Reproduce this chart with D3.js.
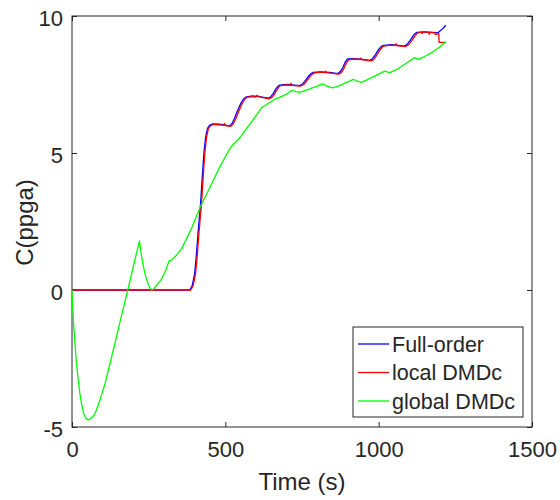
<!DOCTYPE html>
<html>
<head>
<meta charset="utf-8">
<script src="https://cdn.jsdelivr.net/npm/d3@7"></script>
<style>
  body { margin: 0; background: #fff; }
  text { font-family: "Liberation Sans", Arial, sans-serif; fill: #262626; }
</style>
</head>
<body>
<svg id="chart" width="560" height="500"></svg>
<script>
// ---- data ----
var xTicks = [0, 500, 1000, 1500];
var yTicks = [-5, 0, 5, 10];
var seriesNames = ["Full-order", "local DMDc", "global DMDc"];
var seriesColors = ["#0000ff", "#ff0000", "#00ff00"];

var fullTime = [0, 384, 392, 400, 405, 411, 415, 419, 423, 427, 431, 436, 442, 449, 460, 480, 500, 514,
  522, 530, 540, 550, 560, 569, 590, 615, 640, 648, 656, 664, 671, 677, 700, 725, 742, 752, 762, 772,
  780, 786, 810, 840, 867, 875, 883, 891, 899, 920, 950, 971, 980, 990, 1000, 1008, 1013, 1040, 1065,
  1084, 1094, 1104, 1114, 1120, 1124, 1150, 1175, 1193, 1200, 1208, 1214, 1219];
var fullC = [0, 0, 0.15, 0.61, 1.2, 2.07, 2.6, 3.1, 3.8, 4.5, 5.1, 5.6, 5.9, 6.02, 6.06, 6.05, 6.02, 5.99,
  6.08, 6.27, 6.55, 6.8, 6.98, 7.05, 7.08, 7.05, 7.0, 7.05, 7.17, 7.32, 7.43, 7.48, 7.5, 7.48, 7.46,
  7.52, 7.66, 7.81, 7.9, 7.94, 7.96, 7.94, 7.9, 7.97, 8.12, 8.32, 8.43, 8.44, 8.42, 8.38, 8.44, 8.6,
  8.78, 8.88, 8.92, 8.95, 8.93, 8.9, 8.98, 9.13, 9.3, 9.37, 9.4, 9.42, 9.4, 9.39, 9.45, 9.53, 9.6, 9.66];

var localTime = [0, 387, 395, 403, 408, 414, 418, 422, 426, 430, 434, 439, 445, 452, 463, 480, 495, 497,
  500, 517, 525, 533, 543, 553, 563, 572, 590, 600, 602, 615, 643, 651, 659, 667, 674, 680, 700, 712,
  714, 716, 745, 755, 765, 775, 783, 789, 810, 825, 827, 829, 870, 878, 886, 894, 902, 920, 940, 942,
  944, 974, 983, 993, 1003, 1011, 1016, 1040, 1055, 1057, 1059, 1087, 1097, 1107, 1117, 1123, 1127,
  1140, 1142, 1144, 1163, 1165, 1167, 1183, 1185, 1196, 1197, 1219];
var localC = [0, 0, 0.15, 0.61, 1.2, 2.07, 2.6, 3.1, 3.8, 4.5, 5.1, 5.6, 5.9, 6.0, 6.04, 6.03, 6.01, 6.08,
  6.0, 5.97, 6.05, 6.22, 6.5, 6.76, 6.96, 7.04, 7.06, 7.04, 7.1, 7.04, 6.98, 7.02, 7.12, 7.28, 7.4, 7.46,
  7.49, 7.47, 7.55, 7.47, 7.44, 7.49, 7.62, 7.77, 7.87, 7.92, 7.95, 7.93, 7.99, 7.93, 7.88, 7.93, 8.07,
  8.27, 8.4, 8.43, 8.41, 8.47, 8.41, 8.36, 8.4, 8.55, 8.74, 8.85, 8.9, 8.94, 8.92, 8.99, 8.92, 8.88,
  8.94, 9.08, 9.25, 9.34, 9.38, 9.41, 9.36, 9.42, 9.4, 9.33, 9.4, 9.38, 9.32, 9.36, 9.04, 9.04];

var globalTime = [0, 2, 5, 9, 14, 20, 26, 32, 38, 45, 53, 60, 70, 80, 90, 100, 108, 140, 160, 182, 200,
  220, 224, 228, 233, 238, 244, 250, 255, 260, 266, 272, 280, 292, 305, 317, 325, 340, 358, 390, 419,
  450, 480, 516, 547, 580, 617, 622, 660, 700, 718, 730, 742, 760, 780, 800, 818, 830, 850, 870, 890,
  918, 930, 943, 960, 980, 1000, 1020, 1036, 1060, 1080, 1100, 1117, 1128, 1150, 1175, 1200, 1217];
var globalC = [0, -0.5, -1.2, -1.85, -2.6, -3.25, -3.8, -4.2, -4.5, -4.68, -4.74, -4.7, -4.6, -4.38,
  -4.05, -3.7, -3.41, -1.95, -1.0, 0, 0.86, 1.79, 1.45, 1.15, 0.85, 0.6, 0.36, 0.18, 0.07, 0.0, 0.03,
  0.12, 0.22, 0.4, 0.7, 1.07, 1.09, 1.26, 1.52, 2.25, 3.05, 3.75, 4.45, 5.19, 5.55, 6.05, 6.63, 6.68,
  6.95, 7.15, 7.29, 7.24, 7.21, 7.28, 7.36, 7.44, 7.52, 7.45, 7.38, 7.45, 7.55, 7.69, 7.62, 7.58, 7.66,
  7.77, 7.88, 7.99, 7.93, 8.05, 8.2, 8.35, 8.48, 8.42, 8.52, 8.68, 8.88, 9.04];

// ---- layout ----
var margin = { top: 16, right: 28, bottom: 73, left: 72 },
    width = 560 - margin.left - margin.right,
    height = 500 - margin.top - margin.bottom;

var svg = d3.select("#chart")
    .append("g")
    .attr("transform", "translate(" + margin.left + "," + margin.top + ")");

var x = d3.scaleLinear().domain([0, 1500]).range([0, width]);
var y = d3.scaleLinear().domain([-5, 10]).range([height, 0]);

var axisColor = "#262626";
var plain = function (d) { return String(d); };  // "-5" with a hyphen, "1000" without comma

// box
svg.append("rect")
    .attr("width", width).attr("height", height)
    .attr("fill", "none").attr("stroke", axisColor).attr("stroke-width", 1);

function styleAxis(g) {
    g.select(".domain").remove();
    g.selectAll(".tick line").attr("stroke", axisColor);
    g.selectAll(".tick text").attr("font-size", 22).attr("fill", axisColor)
        .attr("font-family", "'Liberation Sans', Arial, sans-serif");
}

svg.append("g")
    .attr("transform", "translate(0," + height + ")")
    .call(d3.axisBottom(x).tickValues(xTicks).tickSizeInner(-5).tickSizeOuter(0).tickPadding(14).tickFormat(plain))
    .call(styleAxis);
svg.append("g")
    .call(d3.axisTop(x).tickValues(xTicks).tickSizeInner(-5).tickSizeOuter(0).tickFormat(""))
    .call(styleAxis);
svg.append("g")
    .call(d3.axisLeft(y).tickValues(yTicks).tickSizeInner(-5).tickSizeOuter(0).tickPadding(9).tickFormat(plain))
    .call(styleAxis)
    .selectAll(".tick text").attr("dy", "0.42em");
svg.append("g")
    .attr("transform", "translate(" + width + ",0)")
    .call(d3.axisRight(y).tickValues(yTicks).tickSizeInner(-5).tickSizeOuter(0).tickFormat(""))
    .call(styleAxis);

// axis titles
svg.append("text")
    .attr("x", width / 2).attr("y", height + 63)
    .attr("text-anchor", "middle").attr("font-size", 24)
    .text("Time (s)");
svg.append("text")
    .attr("transform", "translate(" + (-39) + "," + (height / 2 + 1) + ") rotate(-90)")
    .attr("text-anchor", "middle").attr("font-size", 24)
    .text("C(ppga)");

// lines
var line = d3.line()
    .x(function (d) { return x(d[0]); })
    .y(function (d) { return y(d[1]); });

var series = [
    d3.zip(fullTime, fullC),
    d3.zip(localTime, localC),
    d3.zip(globalTime, globalC)
];

series.forEach(function (s, i) {
    svg.append("path")
        .datum(s)
        .attr("fill", "none")
        .attr("stroke", seriesColors[i])
        .attr("stroke-width", 1.3)
        .attr("stroke-linejoin", "round")
        .attr("d", line);
});

// legend
var legend = svg.append("g").attr("transform", "translate(" + (353 - margin.left) + "," + (327 - margin.top) + ")");
legend.append("rect")
    .attr("width", 170).attr("height", 90)
    .attr("fill", "#fff").attr("stroke", axisColor).attr("stroke-width", 1);
seriesNames.forEach(function (name, i) {
    var cy = 17 + i * 28.5;
    legend.append("line")
        .attr("x1", 5).attr("x2", 36).attr("y1", cy).attr("y2", cy)
        .attr("stroke", seriesColors[i]).attr("stroke-width", 1.3);
    legend.append("text")
        .attr("x", 39).attr("y", cy + 7.5)
        .attr("font-size", 21.5)
        .text(name);
});
</script>
</body>
</html>
